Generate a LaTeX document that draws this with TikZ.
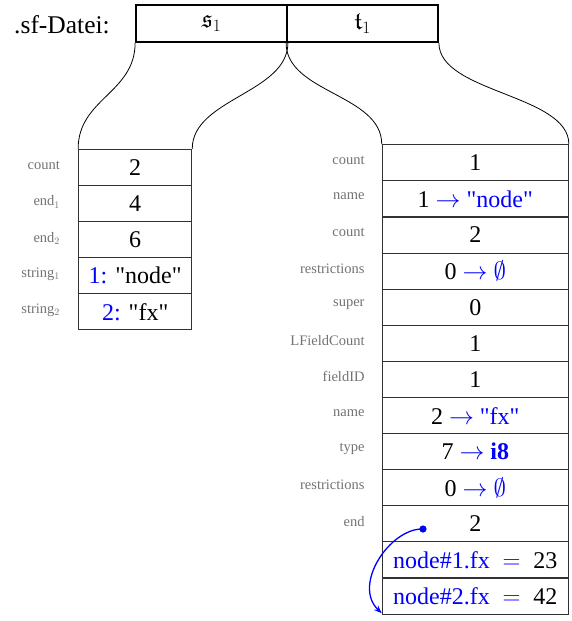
\documentclass[tikz,border=0pt]{standalone}
\usepackage{amssymb}
\usepackage{fontspec}
\setmainfont{Liberation Serif}[Ligatures=TeXOff]
\usetikzlibrary{arrows.meta,calc}
\definecolor{lblgray}{RGB}{115,115,115}
\definecolor{linegray}{RGB}{50,50,50}
\tikzset{
  valtext/.style={font=\fontsize{24}{28}\selectfont},
  lcell/.style={draw=linegray, line width=1.1pt, minimum width=113pt, minimum height=36.1pt, inner sep=0pt, valtext},
  rcell/.style={draw=linegray, line width=1.1pt, minimum width=186pt, minimum height=36.15pt, inner sep=0pt, valtext},
  topbox/.style={draw=black, line width=1.8pt, minimum width=151pt, minimum height=37pt, inner sep=0pt, font=\fontsize{25}{29}\selectfont},
  fieldlbl/.style={anchor=east, text=lblgray, font=\fontsize{14.5}{17}\selectfont, inner sep=0pt},
  split/.style={draw=black, line width=0.8pt},
  ptr/.style={draw=blue, line width=1.3pt, -{Stealth[length=8pt,width=6pt]}}
}
\newcommand{\bl}[1]{\textcolor{blue}{#1}}
\begin{document}
\begin{tikzpicture}[x=1pt,y=-1pt]
\useasboundingbox (0,0) rectangle (572,621);

% file header
\node[font=\fontsize{25.5}{30}\selectfont, anchor=base east, inner sep=0pt] (file) at (110,33) {.sf-Datei:};
\node[topbox] (s) at (211.5,23.5) {$\mathfrak{s}_1$};
\node[topbox] (t) at (362.5,23.5) {$\mathfrak{t}_1$};

% string block
\foreach \i/\v/\l in {1/2/count, 2/4/end$_1$, 3/6/end$_2$,
    4/{\bl{1:} "node"}/string$_1$, 5/{\bl{2:} "fx"}/string$_2$} {
  \node[lcell] (l\i) at (135.2,{149.3+36.1*(\i-0.5)}) {\v};
  \node[fieldlbl] (ll\i) at ($(l\i.west)+(-18,-1.5)$) {\l};
}

% type block
\foreach \i/\v/\l in {
    1/1/count,
    2/{1 \bl{$\rightarrow$ "node"}}/name,
    3/2/count,
    4/{0 \bl{$\rightarrow$ $\emptyset$}}/restrictions,
    5/0/super,
    6/1/LFieldCount,
    7/1/fieldID,
    8/{2 \bl{$\rightarrow$ "fx"}}/name,
    9/{7 \bl{$\rightarrow$ \textbf{i8}}}/type,
    10/{0 \bl{$\rightarrow$ $\emptyset$}}/restrictions,
    11/2/end} {
  \node[rcell] (r\i) at (475.3,{144.8+36.1*(\i-0.5)}) {\v};
  \node[fieldlbl] (rl\i) at ($(r\i.west)+(-17,-2.5)$) {\l};
}
\node[rcell] (r12) at (475.3,{144.8+36.1*11.5}) {\bl{node\#1.fx $\;=\;$} 23};
\node[rcell] (r13) at (475.3,{144.8+36.1*12.5}) {\bl{node\#2.fx $\;=\;$} 42};

% splitting curves from the file into its blocks
\draw[split] (s.south west) .. controls ($(s.south west)+(0,50)$) and ($(l1.north west)+(0,-50)$) .. (l1.north west);
\draw[split] (s.south east) .. controls ($(s.south east)+(0,50)$) and ($(l1.north east)+(0,-50)$) .. (l1.north east);
\draw[split] (t.south west) .. controls ($(t.south west)+(0,50)$) and ($(r1.north west)+(0,-50)$) .. (r1.north west);
\draw[split] (t.south east) .. controls ($(t.south east)+(0,50)$) and ($(r1.north east)+(0,-50)$) .. (r1.north east);

% end offset pointing to the end of the field data
\coordinate (dot) at (423,529);
\fill[blue] (dot) circle (3.6pt);
\draw[ptr] (dot) .. controls (390,528) and (352,585) .. ($(r13.south west)+(0,-1.5)$);
\end{tikzpicture}
\end{document}
